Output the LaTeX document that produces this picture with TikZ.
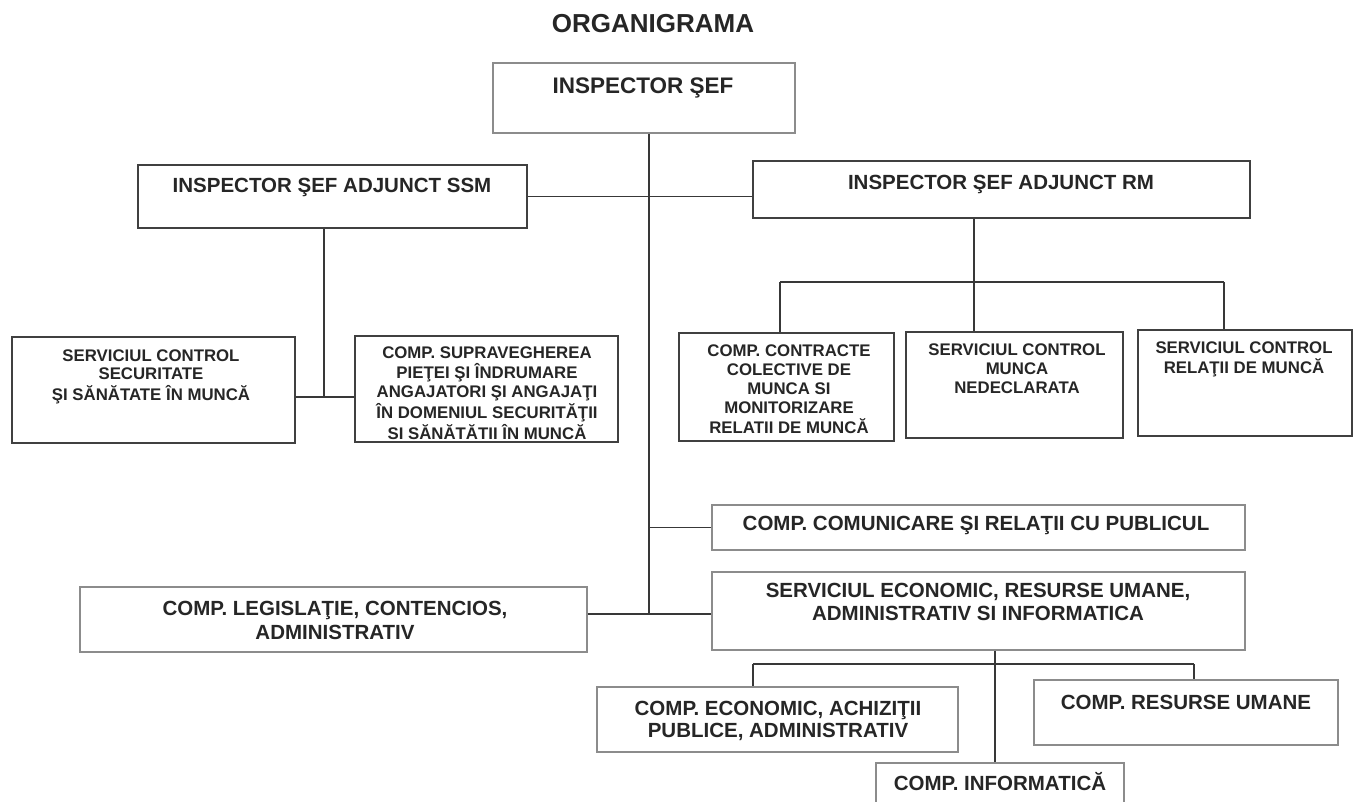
\documentclass[tikz,border=0pt]{standalone}
\usepackage{fontspec}
\setmainfont{Liberation Sans}
\usetikzlibrary{fit}
\newcommand\mlines[1]{\begin{tabular}[t]{@{}c@{}}#1\end{tabular}}
\tikzset{
  boxdark/.style={draw=black!75, line width=1.4pt, inner sep=0pt},
  boxlight/.style={draw=black!45, line width=1.3pt, inner sep=0pt},
  conn/.style={draw=black!78, line width=1.4pt},
  txtbig/.style={font=\bfseries\fontsize{20.5}{23}\selectfont, text=black!85, inner sep=0pt, anchor=base},
  txtsmall/.style={font=\bfseries\fontsize{16.8}{19}\selectfont, text=black!85, inner sep=0pt, anchor=base},
}
\begin{document}
\begin{tikzpicture}[x=1pt,y=-1pt]
\useasboundingbox (0,0) rectangle (1359,802);
\clip (0,0) rectangle (1359,802);
\fill[white] (0,0) rectangle (1359,802);

% title
\node[font=\bfseries\fontsize{26}{30}\selectfont, text=black!85, inner sep=0pt, anchor=base] (title) at (653,32.3) {ORGANIGRAMA};

% boxes
\node[boxlight, fit={(493,63) (795,133)}] (isf) {};
\node[font=\bfseries\fontsize{22.5}{26}\selectfont, text=black!85, inner sep=0pt, anchor=base] (isf-t) at (643,94) {INSPECTOR ŞEF};

\node[boxdark, fit={(138,165) (527,228)}] (ssm) {};
\node[txtbig] (ssm-t) at (332,192.4) {INSPECTOR ŞEF ADJUNCT SSM};

\node[boxdark, fit={(753,161) (1250,218)}] (rm) {};
\node[txtbig] (rm-t) at (1001,189.4) {INSPECTOR ŞEF ADJUNCT RM};

\node[boxdark, fit={(12,337) (295,443)}] (scssm) {};
\node[txtsmall, font=\bfseries\fontsize{16.8}{18.5}\selectfont] (scssm-t) at (151,361) {\mlines{SERVICIUL CONTROL\\SECURITATE\\ŞI SĂNĂTATE ÎN MUNCĂ}};

\node[boxdark, fit={(355,336) (618,442)}] (sup) {};
\node[txtsmall] (sup-t) at (487,358) {\mlines{COMP. SUPRAVEGHEREA\\PIEŢEI ŞI ÎNDRUMARE\\ANGAJATORI ŞI ANGAJAŢI\\ÎN DOMENIUL SECURITĂŢII\\SI SĂNĂTĂTII ÎN MUNCĂ}};

\node[boxdark, fit={(679,333) (894,441)}] (ccm) {};
\node[txtsmall] (ccm-t) at (789,356) {\mlines{COMP. CONTRACTE\\COLECTIVE DE\\MUNCA SI\\MONITORIZARE\\RELATII DE MUNCĂ}};

\node[boxdark, fit={(906,332) (1123,438)}] (ned) {};
\node[txtsmall] (ned-t) at (1017,355) {\mlines{SERVICIUL CONTROL\\MUNCA\\NEDECLARATA}};

\node[boxdark, fit={(1138,330) (1352,436)}] (rel) {};
\node[txtsmall] (rel-t) at (1244,353) {\mlines{SERVICIUL CONTROL\\RELAŢII DE MUNCĂ}};

\node[boxlight, fit={(712,505) (1245,550)}] (com) {};
\node[txtbig] (com-t) at (976,530.4) {COMP. COMUNICARE ŞI RELAŢII CU PUBLICUL};

\node[boxlight, fit={(712,572) (1245,650)}] (eco) {};
\node[txtbig] (eco-t) at (978,597.4) {\mlines{SERVICIUL ECONOMIC, RESURSE UMANE,\\ADMINISTRATIV SI INFORMATICA}};

\node[boxlight, fit={(80,587) (587,652)}] (leg) {};
\node[txtbig, font=\bfseries\fontsize{20.5}{24}\selectfont] (leg-t) at (335,615.4) {\mlines{COMP. LEGISLAŢIE, CONTENCIOS,\\ADMINISTRATIV}};

\node[boxlight, fit={(597,687) (958,752)}] (ecn) {};
\node[txtbig, font=\bfseries\fontsize{20.5}{22}\selectfont] (ecn-t) at (778,715.4) {\mlines{COMP. ECONOMIC, ACHIZIŢII\\PUBLICE, ADMINISTRATIV}};

\node[boxlight, fit={(1034,680) (1338,745)}] (ru) {};
\node[txtbig] (ru-t) at (1186,709.4) {COMP. RESURSE UMANE};

\node[boxlight, fit={(876,763) (1124,815)}] (inf) {};
\node[txtbig] (inf-t) at (1000,790.4) {COMP. INFORMATICĂ};

% connector coordinates
\coordinate (m1) at (649,614);
\coordinate (s1) at (324,397);
\coordinate (r0) at (780,282);
\coordinate (r1) at (974,282);
\coordinate (r2) at (1224,282);
\coordinate (e0) at (753,664);
\coordinate (e1) at (995,664);
\coordinate (e2) at (1194,664);

% connectors
\draw[conn] (m1 |- isf.south) -- (m1);
\draw[conn] (ssm.east) -- (ssm.east -| rm.west);
\draw[conn] (s1 |- ssm.south) -- (s1);
\draw[conn] (scssm.east |- s1) -- (sup.west |- s1);
\draw[conn] (r1 |- rm.south) -- (r1);
\draw[conn] (r0) -- (r2);
\draw[conn] (r0) -- (r0 |- ccm.north);
\draw[conn] (r1) -- (r1 |- ned.north);
\draw[conn] (r2) -- (r2 |- rel.north);
\draw[conn] (m1 |- com.west) -- (com.west);
\draw[conn] (leg.east |- m1) -- (eco.west |- m1);
\draw[conn] (e1 |- eco.south) -- (e1 |- inf.north);
\draw[conn] (e0) -- (e2);
\draw[conn] (e0) -- (e0 |- ecn.north);
\draw[conn] (e2) -- (e2 |- ru.north);
\end{tikzpicture}
\end{document}
